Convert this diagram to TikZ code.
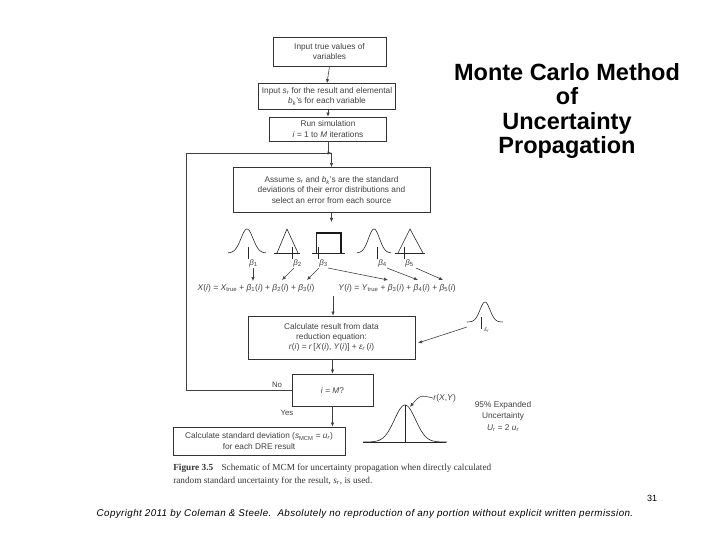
\documentclass[tikz,border=0pt]{standalone}
\usepackage{fontspec}
\setmainfont{Liberation Sans}
\newfontfamily\capserif{Liberation Serif}
\newfontfamily\copyfont[LetterSpace=4]{Liberation Sans}
\usetikzlibrary{arrows.meta,calc}
\begin{document}
\begin{tikzpicture}[x=1pt,y=-1pt,
  line width=0.6pt,
  box/.style={draw=black!80, line width=0.7pt, align=center, inner sep=0pt,
    font=\fontsize{8.3}{10.3}\selectfont, text=black!75},
  arr/.style={draw=black!75, line width=0.6pt, -{Latex[length=4pt,width=3.4pt]}},
  ln/.style={draw=black!75, line width=0.6pt},
  eqn/.style={font=\fontsize{8.4}{10}\selectfont, text=black!75, inner sep=0pt},
  blab/.style={font=\fontsize{8}{10}\selectfont, text=black!75, inner sep=0pt, anchor=west},
  small/.style={font=\fontsize{7.8}{10}\selectfont, text=black!75, inner sep=0pt},
  dist/.style={draw=black!85, line width=0.6pt}
]
\useasboundingbox (0,0) rectangle (720,540);

% Title
\node[font=\fontsize{23.5}{24.5}\selectfont\bfseries, align=center, inner sep=0pt] (title) at (567,111)
  {Monte Carlo Method\\of\\Uncertainty\\Propagation};

% Boxes
\node[box, minimum width=113, minimum height=29] (b1) at (329.5,51.5) {Input true values of\\variables};
\node[box, minimum width=137, minimum height=26] (b2) at (327,96.5)
  {Input \textit{s\textsubscript{r}} for the result and elemental\\\textit{b\textsubscript{k}}'s for each variable};
\node[box, minimum width=117, minimum height=24] (b3) at (328,129)
  {Run simulation\\\textit{i} = 1 to \textit{M} iterations};
\node[box, minimum width=197, minimum height=45] (b4) at (331.5,190)
  {Assume \textit{s\textsubscript{r}} and \textit{b\textsubscript{k}}'s are the standard\\deviations of their error distributions and\\select an error from each source};
\node[box, minimum width=167, minimum height=43] (calc) at (331.5,337.5)
  {Calculate result from data\\reduction equation:\\\textit{r}(\textit{i}) = \textit{r}\,[\textit{X}(\textit{i}), \textit{Y}(\textit{i})] + \textit{ε\textsubscript{r}}\,(\textit{i})};
\node[box, minimum width=81, minimum height=32] (dec) at (332.5,390) {\textit{i} = \textit{M}?};
\node[box, minimum width=172, minimum height=28] (fin) at (259,441)
  {Calculate standard deviation (\textit{s}\textsubscript{MCM} = \textit{u\textsubscript{r}})\\for each DRE result};

% main flow
\draw[arr] (b1.south) -- (b2.north);
\draw[arr] (b2.south -| b3.north) -- (b3.north);
\coordinate (join) at (331.5,153);
\draw[ln] (b3.south) -- (b3.south |- join) -- (join);
\draw[arr] (join) -- (b4.north);
\coordinate (below4) at (331.5,222);
\draw[arr] (b4.south) -- (below4);

% loop back
\coordinate (loopL) at (186,390);
\coordinate (loopT) at (186,153);
\draw[arr] (dec.west) -- (loopL) -- (loopT) -- (join);
\node[small, anchor=south] (no) at (277,388) {No};
\node[small] (yes) at (287,413) {Yes};
\draw[arr] (dec.south) -- (dec.south |- fin.north);

% distributions
% beta1 gaussian
\draw[dist] plot[domain=-19:19, samples=50, smooth] ({247+\x},{253-24*exp(-(\x*\x)/(2*36))});
\draw[dist] (248,247) -- (248,259);
\node[blab] (l1) at (249,263) {\textit{β}\textsubscript{1}};
% beta2 triangle
\draw[dist] (274,253) -- (300,253);
\draw[dist] (277,253) -- (287,229) -- (298,253);
\draw[dist] (292,247) -- (292,259);
\node[blab] (l2) at (293,263) {\textit{β}\textsubscript{2}};
% beta3 rectangle
\draw[dist] (312,253) -- (345,253);
\draw[dist] (316,253) -- (316,233);
\draw[draw=black!90, line width=1.6pt] (316,233) -- (341,233) -- (341,253);
\draw[dist] (318,247) -- (318,259);
\node[blab] (l3) at (319,263) {\textit{β}\textsubscript{3}};
% beta4 gaussian
\draw[dist] plot[domain=-17:17, samples=50, smooth] ({374+\x},{253-24*exp(-(\x*\x)/(2*30))});
\draw[dist] (377,247) -- (377,259);
\node[blab] (l4) at (378,263) {\textit{β}\textsubscript{4}};
% beta5 triangle
\draw[dist] (395,253) -- (425,253);
\draw[dist] (398,253) -- (410,229) -- (423,253);
\draw[dist] (404,247) -- (404,259);
\node[blab] (l5) at (405,263) {\textit{β}\textsubscript{5}};

% equations
\node[eqn] (eqX) at (256,288)
  {\textit{X}(\textit{i}) = \textit{X}\textsubscript{true} + \textit{β}\textsubscript{1}(\textit{i}) + \textit{β}\textsubscript{2}(\textit{i}) + \textit{β}\textsubscript{3}(\textit{i})};
\node[eqn] (eqY) at (397,288)
  {\textit{Y}(\textit{i}) = \textit{Y}\textsubscript{true} + \textit{β}\textsubscript{3}(\textit{i}) + \textit{β}\textsubscript{4}(\textit{i}) + \textit{β}\textsubscript{5}(\textit{i})};

\coordinate (tX1) at (253,281);
\coordinate (tX2) at (282,280);
\coordinate (tX3) at (307,280);
\coordinate (tY3) at (388,280);
\coordinate (tY4) at (418,280);
\coordinate (tY5) at (443,280);
\draw[arr] ($(l1.south west)+(4,1)$) -- (tX1);
\draw[arr] ($(l2.south west)+(1,1)$) -- (tX2);
\draw[arr] ($(l3.south west)+(0,1)$) -- (tX3);
\draw[arr] ($(l3.south east)+(0,1)$) -- (tY3);
\draw[arr] ($(l4.south east)+(0,1)$) -- (tY4);
\draw[arr] ($(l5.south east)+(2,1)$) -- (tY5);

\coordinate (eqmid) at (333,296);
\draw[arr] (eqmid) -- (eqmid |- calc.north);
\draw[arr] (calc.south -| dec.north) -- (dec.north);

% epsilon_r
\draw[dist] plot[domain=-18:18, samples=50, smooth] ({485+\x},{322-20*exp(-(\x*\x)/(2*25))});
\draw[dist] (481,317) -- (481,329);
\node[blab, font=\fontsize{6.5}{8}\selectfont] (leps) at (484,330) {\textit{ε\textsubscript{r}}};
\coordinate (epsend) at (418,343);
\draw[arr] (467,327) -- (epsend);

% r(X,Y) distribution
\draw[dist] (363,442) -- (446,442);
\draw[dist] plot[domain=-42:42, samples=80, smooth] ({405+\x},{442-37*exp(-(\x*\x)/(2*110))});
\draw[dist] (405,405) -- (405,442);
\node[eqn, anchor=west] (rlab) at (433,398) {\textit{r}(\textit{X},\textit{Y})};
\draw[arr] (rlab.west) .. controls (420,395) .. (410,407);

\node[small, align=center, font=\fontsize{8.3}{11.5}\selectfont] (exp) at (503,416)
  {95\% Expanded\\Uncertainty\\\textit{U\textsubscript{r}} = 2 \textit{u\textsubscript{r}}};

% caption
\node[anchor=west, inner sep=0pt, font=\capserif\fontsize{9.25}{10}\selectfont, text=black!80] (cap1) at (173,468)
  {\textbf{Figure 3.5}\hspace{0.9em}Schematic of MCM for uncertainty propagation when directly calculated};
\node[anchor=west, inner sep=0pt, font=\capserif\fontsize{9.25}{10}\selectfont, text=black!80] (cap2) at (173,481)
  {random standard uncertainty for the result, \textit{s\textsubscript{r}}, is used.};

% footer
\node[inner sep=0pt, font=\copyfont\fontsize{9.8}{11}\selectfont\itshape] (copy) at (365,514)
  {Copyright 2011 by Coleman \& Steele.\ \ Absolutely no reproduction of any portion without explicit written permission.};
\node[inner sep=0pt, font=\fontsize{9}{11}\selectfont] (pg) at (652,498) {31};
\end{tikzpicture}
\end{document}
